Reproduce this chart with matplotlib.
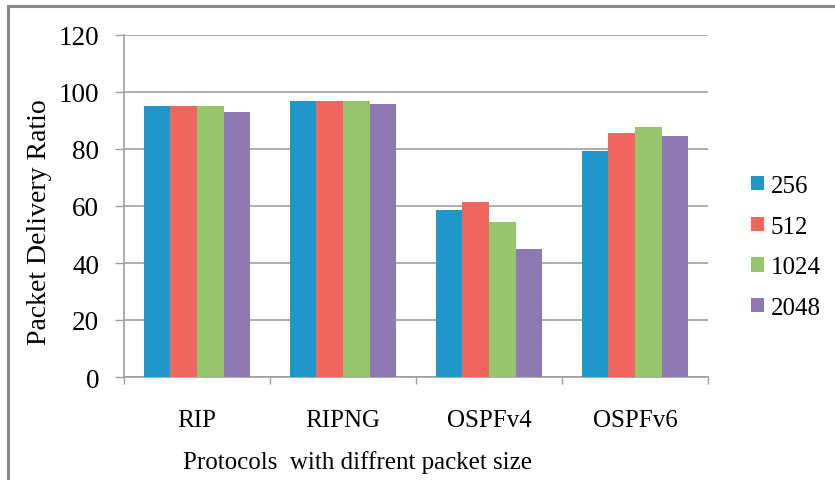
import matplotlib.pyplot as plt
import numpy as np
from matplotlib.patches import Rectangle

plt.rcParams['font.family'] = ['Liberation Serif', 'DejaVu Serif']

# data
protocols = ['RIP', 'RIPNG', 'OSPFv4', 'OSPFv6']
sizes = ['256', '512', '1024', '2048']
pdr_256 = [95.1, 97.0, 58.6, 79.2]
pdr_512 = [95.1, 97.0, 61.5, 85.6]
pdr_1024 = [95.1, 97.0, 54.3, 87.6]
pdr_2048 = [93.0, 95.8, 44.8, 84.7]
colors = ['#1f97ca', '#f0655e', '#97c56d', '#8f79b2']

W, H = 835, 481
fig = plt.figure(figsize=(W / 100, H / 100), dpi=100)
ax = fig.add_axes([124 / W, 1 - 378 / H, (708 - 124) / W, (378 - 36) / H])

x = np.arange(len(protocols))
bw = 0.183
series = [pdr_256, pdr_512, pdr_1024, pdr_2048]
for i, (vals, c, lab) in enumerate(zip(series, colors, sizes)):
    ax.bar(x + (i - 1.5) * bw, vals, bw, color=c, label=lab, zorder=3)

ax.set_xlim(-0.5, len(protocols) - 0.5)
ax.set_ylim(0, 120)
ax.set_yticks(range(0, 121, 20))
ax.set_xticks(x)
ax.set_xticklabels(protocols)
ax.set_xticks(np.arange(-0.5, len(protocols)), minor=True)
ax.tick_params(axis='x', which='major', length=0, pad=23, labelsize=18)
ax.tick_params(axis='x', which='minor', length=5, color='#a0a0a0', width=1)
ax.tick_params(axis='y', length=6.5, color='#a0a0a0', width=1, pad=11.5, labelsize=19.5)
ax.grid(axis='y', color='#a0a0a0', linewidth=1.2, zorder=0)
for s in ['top', 'right']:
    ax.spines[s].set_visible(False)
for s in ['left', 'bottom']:
    ax.spines[s].set_color('#a0a0a0')
    ax.spines[s].set_linewidth(1.2)

ax.set_ylabel('Packet Delivery Ratio', fontsize=20)
ax.yaxis.set_label_coords(-0.123, 0.456)
ax.set_xlabel('Protocols  with diffrent packet size', fontsize=18)
ax.xaxis.set_label_coords(0.40, -0.214)

leg = ax.legend(loc='center left', bbox_to_anchor=(751 / W, 1 - 248 / H),
                bbox_transform=fig.transFigure, frameon=False, fontsize=18,
                borderpad=0, borderaxespad=0,
                handlelength=0.5, handleheight=0.5, handletextpad=0.3,
                labelspacing=0.75)

# outer chart frame (only top and left visible in reference)
fig.patches.append(Rectangle((8 / W, -0.1), 1.2, 1 - 7 / H + 0.1,
                             transform=fig.transFigure, fill=False,
                             edgecolor='#888888', linewidth=2.2))

fig.savefig('out.png', dpi=100)
